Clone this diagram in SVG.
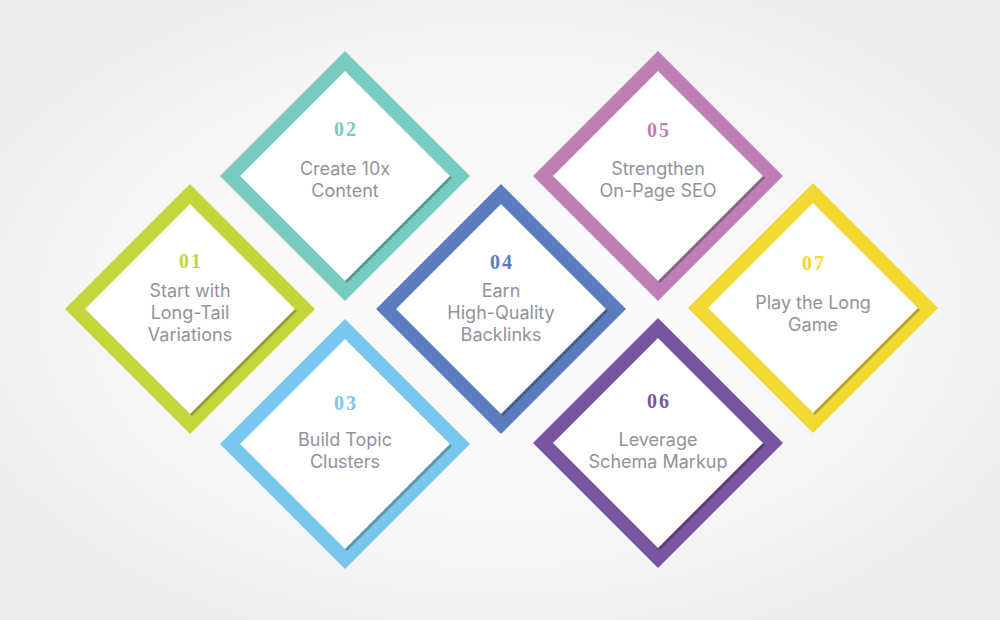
<svg xmlns="http://www.w3.org/2000/svg" width="1000" height="620" viewBox="0 0 1000 620">
<defs>
<radialGradient id="bg" cx="50%" cy="50%" r="65%">
<stop offset="0" stop-color="#fdfdfd"/>
<stop offset="0.6" stop-color="#f6f6f7"/>
<stop offset="1" stop-color="#ebebed"/>
</radialGradient>
<filter id="sh" x="-10%" y="-10%" width="120%" height="120%"><feGaussianBlur stdDeviation="0.7"/></filter>
<polygon id="outer" points="0,-125 125,0 0,125 -125,0"/>
<polygon id="inner" points="0,-105 105,0 0,105 -105,0"/>
</defs>
<style>
.lbl{font-family:Inter,"Liberation Sans",Arial,sans-serif;font-size:18px;fill:#92929d;text-anchor:middle}
.num{font-family:"Liberation Serif","DejaVu Serif",serif;font-size:20px;font-weight:bold;text-anchor:middle;letter-spacing:2px;font-variant-numeric:oldstyle-nums}
.shadow{fill:#000;opacity:0.25}
.white{fill:#fff}
</style>
<rect width="1000" height="620" fill="url(#bg)"/>
<g id="connectors"/>
<g id="node01" transform="translate(190,309)">
<use href="#outer" fill="#c5d63b"/>
<use href="#inner" class="shadow" transform="translate(2,2)" filter="url(#sh)"/>
<use href="#inner" class="white"/>
<text class="num" x="1" y="-41" fill="#c5d63b">01</text>
<text class="lbl" x="0" y="-12">Start with</text>
<text class="lbl" x="0" y="10">Long-Tail</text>
<text class="lbl" x="0" y="32">Variations</text>
</g>
<g id="node02" transform="translate(345,176)">
<use href="#outer" fill="#77cbbf"/>
<use href="#inner" class="shadow" transform="translate(2,2)" filter="url(#sh)"/>
<use href="#inner" class="white"/>
<text class="num" x="1" y="-40" fill="#77cbbf">02</text>
<text class="lbl" x="0" y="-1">Create 10x</text>
<text class="lbl" x="0" y="21">Content</text>
</g>
<g id="node03" transform="translate(345,444)">
<use href="#outer" fill="#78c7ee"/>
<use href="#inner" class="shadow" transform="translate(2,2)" filter="url(#sh)"/>
<use href="#inner" class="white"/>
<text class="num" x="1" y="-34" fill="#78c7ee">03</text>
<text class="lbl" x="0" y="2">Build Topic</text>
<text class="lbl" x="0" y="24">Clusters</text>
</g>
<g id="node04" transform="translate(501,309)">
<use href="#outer" fill="#5d7cbf"/>
<use href="#inner" class="shadow" transform="translate(2,2)" filter="url(#sh)"/>
<use href="#inner" class="white"/>
<text class="num" x="1" y="-40" fill="#5d7cbf">04</text>
<text class="lbl" x="0" y="-12">Earn</text>
<text class="lbl" x="0" y="10">High-Quality</text>
<text class="lbl" x="0" y="32">Backlinks</text>
</g>
<g id="node05" transform="translate(658,176)">
<use href="#outer" fill="#be7fb6"/>
<use href="#inner" class="shadow" transform="translate(2,2)" filter="url(#sh)"/>
<use href="#inner" class="white"/>
<text class="num" x="1" y="-39" fill="#be7fb6">05</text>
<text class="lbl" x="0" y="-1">Strengthen</text>
<text class="lbl" x="0" y="21">On-Page SEO</text>
</g>
<g id="node06" transform="translate(658,443)">
<use href="#outer" fill="#7755a1"/>
<use href="#inner" class="shadow" transform="translate(2,2)" filter="url(#sh)"/>
<use href="#inner" class="white"/>
<text class="num" x="1" y="-35" fill="#7755a1">06</text>
<text class="lbl" x="0" y="3">Leverage</text>
<text class="lbl" x="0" y="25">Schema Markup</text>
</g>
<g id="node07" transform="translate(813,308)">
<use href="#outer" fill="#f1d932"/>
<use href="#inner" class="shadow" transform="translate(2,2)" filter="url(#sh)"/>
<use href="#inner" class="white"/>
<text class="num" x="1" y="-38" fill="#f1d932">07</text>
<text class="lbl" x="0" y="1">Play the Long</text>
<text class="lbl" x="0" y="23">Game</text>
</g>
</svg>
